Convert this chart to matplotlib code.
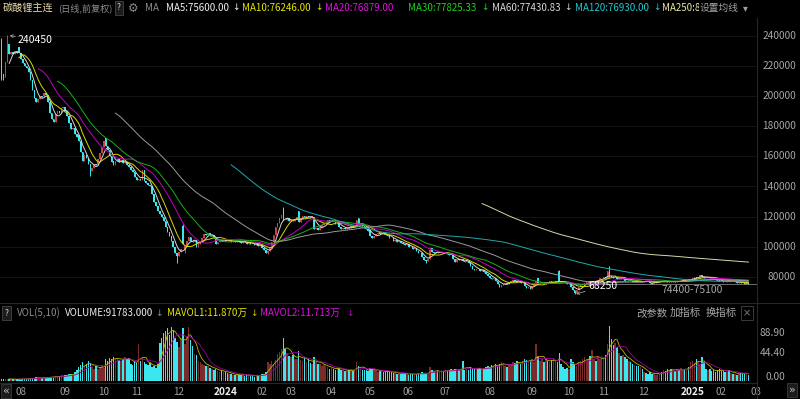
import matplotlib
matplotlib.use('Agg')
import matplotlib.pyplot as plt
from matplotlib.lines import Line2D
from matplotlib.transforms import blended_transform_factory
import numpy as np
import pandas as pd

plt.rcParams['font.family'] = ['Noto Sans CJK SC', 'DejaVu Sans']

#
# data (prices in thousand yuan, volume in 10k lots)
#

month_days = [7, 23, 20, 17, 22, 21, 22, 15, 21, 20, 20, 19, 23, 22, 19, 18, 21, 22, 18, 18]
month_labels = ['', '08', '09', '10', '11', '12', '2024', '02', '03', '04', '05', '06',
                '07', '08', '09', '10', '11', '12', '2025', '02', '03']

open_2023 = [
    236, 214.5, 213, 223, 235, 228, 229.5,
    228, 230, 233, 229, 225, 222, 220, 219, 216, 211, 204, 199, 196, 198, 200, 200, 202, 201, 196, 189, 185, 183, 188,
    190, 189, 192, 193, 190, 187, 182, 178, 179, 175, 174, 170, 163, 157, 161, 159, 155, 150, 152, 155,
    154, 158, 162, 166, 172, 167, 164, 160, 157, 154, 157, 158, 156.5, 157.5, 155.5, 156, 154,
    153, 151, 149.5, 146, 144, 145, 144.5, 151, 143.5, 142.5, 141, 140, 135, 130, 127, 124, 122, 119.5, 117, 113, 110, 107,
    104, 100, 96, 93.5, 96.5, 114, 97.5, 100.5, 104, 106.5, 104, 103, 104.5, 100, 101.5, 104, 106, 108.5, 107.5, 109, 107,
]
close_2023 = [
    214, 213, 223, 231, 228, 229.5, 228,
    230, 229, 229.5, 225, 222, 220, 218.5, 216, 211, 204, 199, 196, 198, 200, 199.5, 202, 201, 196, 189, 185, 183, 188, 190,
    189, 192, 193, 190, 187, 182, 178, 179, 175, 173, 170, 163, 157, 161, 159, 155, 150, 152, 155, 154,
    158, 162, 166, 170, 167, 164, 160, 156, 154, 157, 158, 156.5, 157.5, 155.5, 156, 154, 153,
    151, 149.5, 146, 144, 145, 144.5, 151, 143.5, 142.5, 141, 140, 135, 130, 127, 124, 122, 119.5, 117, 113, 110, 107, 104,
    100, 96, 93.5, 96.5, 98.5, 101.5, 100.5, 104, 106.5, 104, 103, 104.5, 100, 101.5, 104, 106, 108.5, 107.5, 109, 107, 108,
]
vol_2023 = [
    4, 3, 3.5, 4, 3, 2.5, 3,
    2.5, 3, 3.5, 3, 4, 3.5, 3, 4, 5, 4.5, 5, 6, 5, 4.5, 5, 6, 5.5, 6, 7, 6.5, 7, 8, 7,
    8, 9, 7.5, 9, 10, 11, 12, 10, 14, 18, 22, 26, 30, 24, 28, 33, 27, 22, 20, 24,
    19, 23, 26, 21, 36, 33, 37, 35, 38, 36, 37, 34, 33, 36, 38, 35, 37,
    28, 26, 30, 29, 60, 33, 37, 31, 27, 26, 29, 22, 24, 21, 28, 62, 70, 77, 80, 85, 75, 87,
    82, 70, 63, 55, 68, 85, 60, 72, 88, 66, 57, 44, 42, 33, 30, 27, 26, 24, 25, 21, 19,
]

open_2024 = [
    108, 106.5, 101.5, 103, 105, 104, 104.5, 104, 103.5, 104.5, 103, 104, 103, 104, 103, 102.5, 103.5, 103, 102, 103, 102, 101.5,
    101, 101.5, 100.5, 101, 99, 97.5, 96, 97, 99, 103, 108, 113, 116, 119, 126,
    118, 117.5, 119, 117, 118, 117, 118.5, 124, 116.5, 119, 120.5, 119.5, 120.5, 120, 119.5, 120, 111.5, 112.5, 111, 113, 114.5,
    115.5, 116, 117.5, 117, 118, 117.5, 115, 116, 113, 112, 112.5, 111.5, 113, 112.5, 113.5, 113, 113.5, 119, 114.5, 115.5,
    114, 112.5, 111.5, 111, 107, 105.5, 107, 108.5, 109, 108.5, 109.5, 108.5, 108, 107.5, 106, 105.5, 104, 104.5, 103, 103.5,
    102.5, 102, 101, 101.5, 100, 99.5, 98.5, 99, 97, 96, 95.5, 93, 91, 90.5, 92, 99, 96.5, 96, 96.5,
    95.5, 96, 96.5, 95.5, 96, 95, 94.8, 94.5, 92, 90, 91.5, 91, 92, 90.5, 90, 90.5, 89.5, 87.5, 85.5, 84.5, 85.5, 85, 84,
    84.5, 83, 82, 80.5, 79.5, 78.5, 79, 77.5, 75.5, 73.5, 74.5, 75.5, 76, 75.5, 76.5, 77.5, 78, 77.5, 76.5, 77, 76, 76.5,
    74, 72.5, 73, 72, 74, 76, 79, 75.5, 76, 76.5, 75.5, 76.5, 76, 77, 76, 76.5, 77.5, 84, 77,
    76.8, 76.5, 76, 75.5, 76, 73, 71, 69.5, 71.5, 73, 74.5, 75, 76, 76.5, 77, 76.5, 77, 77.5,
    77, 78, 79, 79.5, 80, 79, 86.5, 80.5, 80, 79, 79.5, 78.5, 79, 78.5, 79, 77.5, 77, 77.5, 77, 76.5, 77,
    76.8, 76.5, 77, 76.5, 77.5, 77.2, 77, 76, 75.5, 76, 76.5, 77, 77.5, 77, 77.5, 77, 76.5, 77, 76.5, 77, 76.5, 77.5,
]
close_2024 = [
    106, 101.5, 103, 105, 104, 104.5, 104, 103.5, 104.5, 103, 104, 103, 104, 103, 102.5, 103.5, 103, 102, 103, 102, 101.5, 101,
    101.5, 100.5, 101, 99, 97.5, 96, 97, 99, 103, 108, 113, 116, 119, 121, 118,
    117.5, 119, 117, 118, 117, 118.5, 120, 116.5, 119, 120.5, 119.5, 120.5, 120, 119, 120.5, 111.5, 112.5, 111, 113, 114.5, 115.5,
    116, 117.5, 117, 118, 117, 115, 116, 113, 112, 112.5, 111.5, 113, 112.5, 113.5, 113, 113.5, 118, 114.5, 115.5, 114,
    112.5, 111.5, 110.5, 107, 105.5, 107, 108.5, 109, 108.5, 109.5, 108.5, 108, 107, 106, 105.5, 104, 104.5, 103, 103.5, 102.5,
    102, 101, 101.5, 100, 99.5, 98.5, 99, 97, 96, 95.5, 93, 91, 90.5, 92, 98, 96.5, 96, 96.5, 95.5,
    96, 96.5, 95.5, 96, 95, 94.5, 94.5, 92, 90, 91.5, 91, 92, 90.5, 90, 90.5, 89.5, 87.5, 85.5, 84.5, 85.5, 85, 84, 84.5,
    83, 82, 80.5, 79.5, 78.5, 79, 77.5, 75.5, 73.5, 74.5, 75.5, 76, 75.5, 76.5, 77.5, 78, 77.5, 76.5, 77, 76, 76.5, 74,
    72.5, 73, 72, 74, 76, 77, 75.5, 76, 76.5, 75.5, 76.5, 76, 77, 76, 76.5, 77.5, 77, 77, 76.5,
    76.5, 76, 75.5, 76, 73, 71, 69.5, 71.5, 73, 74.5, 75, 76, 76.5, 77, 76.5, 77, 77.5, 77,
    78, 79, 79.5, 80, 79, 84, 80, 80, 79, 79.5, 78.5, 79, 78.5, 79, 77.5, 77, 77.5, 77, 76.5, 77, 76.5,
    76.5, 77, 76.5, 77.5, 77, 77, 76, 75.5, 76, 76.5, 77, 77.5, 77, 77.5, 77, 76.5, 77, 76.5, 77, 76.5, 77.5, 77,
]
vol_2024 = [
    18, 20, 16, 15, 17, 14, 15, 13, 12, 11, 10, 9, 11, 10, 9, 12, 8, 9, 10, 8, 9, 7,
    9, 10, 8, 11, 12, 14, 30, 28, 32, 27, 34, 44, 47, 52, 70,
    52, 45, 40, 38, 42, 35, 36, 48, 34, 33, 37, 31, 35, 29, 28, 39, 30, 28, 27, 25, 26,
    24, 22, 20, 21, 19, 18, 23, 20, 18, 17, 16, 18, 17, 19, 16, 18, 31, 25, 20, 18,
    17, 18, 16, 21, 19, 17, 18, 15, 16, 17, 15, 14, 16, 15, 14, 13, 14, 12, 13, 11,
    12, 11, 13, 10, 12, 11, 10, 12, 13, 11, 14, 12, 13, 11, 22, 18, 15, 14, 16,
    15, 17, 16, 18, 16, 17, 19, 18, 20, 16, 17, 19, 33, 18, 20, 17, 22, 21, 19, 18, 20, 21, 19,
    20, 22, 24, 23, 26, 25, 28, 24, 27, 30, 29, 25, 23, 27, 26, 31, 29, 33, 30, 28, 32, 35,
    34, 31, 33, 36, 30, 60, 38, 33, 36, 31, 35, 32, 30, 34, 36, 33, 31, 45, 28,
    22, 19, 21, 20, 35, 30, 28, 24, 31, 33, 36, 38, 32, 35, 40, 50, 36, 33,
    38, 35, 40, 37, 42, 60, 88.9, 68, 58, 62, 55, 45, 40, 42, 38, 35, 33, 30, 28, 26, 24,
    25, 22, 20, 15, 13, 12, 14, 11, 13, 10, 12, 11, 14, 18, 16, 19, 17, 20, 18, 16, 19, 17,
]

open_2025 = [
    77, 77.5, 78, 77.5, 78.5, 78, 78.5, 79, 80, 79.5, 80, 81, 80, 79.5, 79, 79.8, 79.5, 79,
    78.5, 78, 77.8, 77.5, 77, 76.8, 76.5, 77.2, 77, 77.3, 76.8, 77, 76, 76.4, 76.2, 76, 75.4, 75.6,
]
close_2025 = [
    77.5, 78, 77.5, 78.5, 78, 78.5, 79, 80, 79.5, 80, 81, 80, 79.5, 79, 79.5, 79.5, 79, 78.5,
    78, 77.5, 77.5, 77, 76.5, 76.5, 77, 77, 77, 77, 77, 76, 76.4, 76, 76, 75.4, 75.5, 75.1,
]
vol_2025 = [
    21, 18, 20, 19, 22, 30, 33, 29, 35, 31, 28, 38, 30, 20, 17, 19, 16, 18,
    15, 17, 19, 16, 18, 14, 15, 17, 13, 12, 11.5, 10.5, 10.75, 12.5, 13, 12, 12.7, 9.18,
]

# wicks that stand out from the bodies
wick_high = {0: 239, 3: 240.45, 94: 115, 146: 126.5, 222: 100, 278: 79.5, 289: 84.5, 315: 87}
wick_low = {0: 211, 1: 211, 46: 147, 91: 89, 95: 96, 138: 95, 220: 89, 297: 68.25}

ma_periods = [5, 10, 20, 30, 60, 120, 250]
ma_line_colors = ['#d8d8d8', '#d8d800', '#c000c0', '#18b018', '#9a9a9a', '#20a8b0', '#d8d8a8']

header_ma = [(166, 'MA5:75600.00', '#f0f0f0', 232),
             (242, 'MA10:76246.00', '#e6e600', 315),
             (325, 'MA20:76879.00', '#e010e0', None),
             (408, 'MA30:77825.33', '#20d020', 481),
             (492, 'MA60:77430.83', '#d8d8d8', 564),
             (575, 'MA120:76930.00', '#20c8d0', 653),
             (662, 'MA250:8', '#e8e8a8', None)]

price_ticks = [240000, 220000, 200000, 180000, 160000, 140000, 120000, 100000, 80000]
vol_ticks = [('88.90', 333), ('44.40', 353), ('0.00', 377)]

UP = '#c84444'
DOWN = '#3de6ee'
UP_VOL = '#7a2c2a'

#
# plot
#

W, H = 800, 399


def fx(x):
    return x / W


def fy(y):
    return 1 - y / H


def price_at(y):
    return 240000 - (y - 36) / 30.1 * 20000


def put(x, y, s, color, size=7, ha='left', weight='normal', **kw):
    fig.text(fx(x), fy(y), s, color=color, fontsize=size, ha=ha, va='center', fontweight=weight, **kw)


opens = np.array(open_2023 + open_2024 + open_2025) * 1000
closes = np.array(close_2023 + close_2024 + close_2025) * 1000
volumes = np.array(vol_2023 + vol_2024 + vol_2025)
n = len(closes)
idx = np.arange(n)

highs = np.maximum(opens, closes)
lows = np.minimum(opens, closes)
for k, v in wick_high.items():
    highs[k] = v * 1000
for k, v in wick_low.items():
    lows[k] = v * 1000

up = closes >= opens
colors = np.where(up, UP, DOWN)

fig = plt.figure(figsize=(8, 3.99), dpi=100, facecolor='black')

xlim = (-0.777, 391.45)

ax = fig.add_axes([0, fy(302), fx(757), (302 - 20) / H])
ax.set_facecolor('black')
ax.set_xlim(*xlim)
ax.set_ylim(price_at(302), price_at(20))
for s in ax.spines.values():
    s.set_visible(False)
ax.set_xticks([])
ax.set_yticks([])

for p in price_ticks:
    ax.axhline(p, color='#161616', lw=0.6, zorder=0)

ax.vlines(idx, lows, highs, colors=colors, lw=0.7, zorder=2)
body = np.maximum(np.abs(closes - opens), 500)
ax.bar(idx, body, bottom=np.minimum(opens, closes), width=0.8, color=colors, lw=0, zorder=3)

s = pd.Series(closes)
for per, col in zip(ma_periods, ma_line_colors):
    ax.plot(idx, s.rolling(per).mean(), color=col, lw=0.7, zorder=4)

ax.hlines(75100, 297, xlim[1], color='#6e6e6e', lw=0.7, zorder=1)

ax.annotate('240450', xy=(3.5, 240450), xytext=(fx(18), fy(40)), textcoords='figure fraction',
            color='white', fontsize=7.5, ha='left', va='center',
            arrowprops=dict(arrowstyle='->', color='#a0a0a0', lw=0.6, shrinkA=0, shrinkB=1, mutation_scale=5))
ax.annotate('68250', xy=(297, 68250), xytext=(fx(588), fy(286)), textcoords='figure fraction',
            color='white', fontsize=7.5, ha='left', va='center', zorder=6,
            arrowprops=dict(arrowstyle='->', color='#a0a0a0', lw=0.6, shrinkA=0, shrinkB=1, mutation_scale=5))
put(661, 290, '74400-75100', '#a8a8a8', 7.5)

# volume panel
vax = fig.add_axes([0, fy(381), fx(757), (381 - 318) / H])
vax.set_facecolor('black')
vax.set_xlim(*xlim)
vax.set_ylim(0, (381 - 318) / 0.619)
for sp in vax.spines.values():
    sp.set_visible(False)
vax.set_xticks([])
vax.set_yticks([])
vax.bar(idx, volumes, width=0.78, color=np.where(up, UP_VOL, DOWN), lw=0)
vs = pd.Series(volumes)
vax.plot(idx, vs.rolling(5).mean(), color='#b8b800', lw=0.6)
vax.plot(idx, vs.rolling(10).mean(), color='#a000a0', lw=0.6)

# frame lines
for xs, ys in [([757, 757], [18, 399]), ([0, 800], [303, 303]), ([0, 757], [383, 383])]:
    fig.add_artist(Line2D([fx(v) for v in xs], [fy(v) for v in ys], color='#262626', lw=0.8))

# header
hs = 7
put(3, 8, '碳酸锂主连', '#e6d8a8', 7.3)
put(58, 8, '(日线,前复权)', '#8c8c8c', 6.6)
put(119, 8, '?', '#d0d0d0', 6, ha='center',
    bbox=dict(boxstyle='square,pad=0.25', fc='#1c1c1c', ec='#454545', lw=0.6))
put(133, 8, '⚙', '#8c8c8c', 8.5, ha='center', family=['DejaVu Sans'])
put(145, 8, 'MA', '#8c8c8c', 7)
for x, txt, col, ax_ in header_ma:
    put(x, 8, txt, col, hs)
    if ax_ is not None:
        put(ax_, 8, '↓', col, 6.5, family=['DejaVu Sans'])
put(700, 8, '设置均线', '#a0a0a0', 7, bbox=dict(fc='black', ec='none', pad=1))
put(745, 8, '▾', '#a0a0a0', 7, ha='center', family=['DejaVu Sans'])

# volume header
put(6.5, 313, '?', '#d0d0d0', 6, ha='center',
    bbox=dict(boxstyle='square,pad=0.25', fc='#1c1c1c', ec='#454545', lw=0.6))
put(17, 313, 'VOL(5,10)', '#8c8c8c', hs)
put(65, 313, 'VOLUME:91783.000', '#f0f0f0', hs)
put(155, 313, '↓', '#8c8c8c', 6.5, family=['DejaVu Sans'])
put(167, 313, 'MAVOL1:11.870万', '#e6e600', hs)
put(250, 313, '↓', '#c8c800', 6.5, family=['DejaVu Sans'])
put(260, 313, 'MAVOL2:11.713万', '#e010e0', hs)
put(346, 313, '↓', '#c000c0', 6.5, family=['DejaVu Sans'])
put(636, 313, '改参数', '#a8a8a8', 7.5)
put(670, 313, '加指标', '#a8a8a8', 7.5)
put(706, 313, '换指标', '#a8a8a8', 7.5)
put(747, 313, '×', '#808080', 7, ha='center', family=['DejaVu Sans'],
    bbox=dict(boxstyle='square,pad=0.2', fc='black', ec='#454545', lw=0.6))

# axis labels
for p in price_ticks:
    put(796, 36 + (240000 - p) / 20000 * 30.1, str(p), '#a8a8a8', 7.3, ha='right')
for txt, y in vol_ticks:
    put(785, y, txt, '#a8a8a8', 7.3, ha='right')

trans = blended_transform_factory(vax.transData, fig.transFigure)
starts = np.concatenate([[0], np.cumsum(month_days)])
for i0, lab in zip(starts, month_labels):
    if lab == '':
        continue
    year = len(lab) == 4
    vax.text(i0, fy(392), lab, transform=trans, ha='left', va='center', clip_on=False,
             color='#f0f0f0' if year else '#a0a0a0', fontsize=7.3 if year else 7,
             fontweight='bold' if year else 'normal')

put(6, 391, '«', '#c0c0c0', 8, ha='center', family=['DejaVu Sans'],
    bbox=dict(boxstyle='square,pad=0.15', fc='#1c1c1c', ec='#3a3a3a', lw=0.6))
put(792, 390, '»', '#c0c0c0', 8, ha='center', family=['DejaVu Sans'],
    bbox=dict(boxstyle='square,pad=0.15', fc='#1c1c1c', ec='#3a3a3a', lw=0.6))

plt.savefig('out.png', dpi=100, facecolor='black')
